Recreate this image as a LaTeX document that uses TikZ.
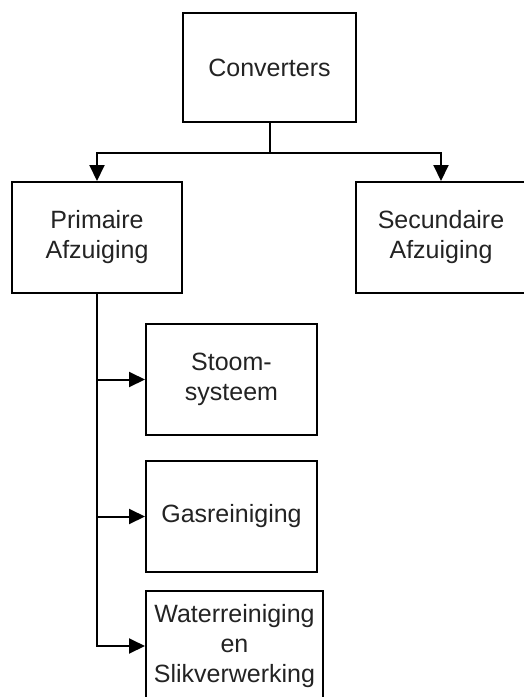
\documentclass[tikz,border=0pt]{standalone}
\usepackage{fontspec}
\setmainfont{Liberation Sans}
\usetikzlibrary{arrows.meta}
\definecolor{inkgray}{RGB}{35,35,35}
\tikzset{
  box/.style={draw=black, line width=2pt, fill=white, align=center,
    text=inkgray, font=\fontsize{25}{30}\selectfont, inner sep=0pt},
  link/.style={draw=black, line width=2pt,
    -{Triangle[length=16pt,width=15pt]}},
}
\begin{document}
\begin{tikzpicture}[x=1pt,y=-1pt]
  \clip (0,0) rectangle (524,697);
  \useasboundingbox (0,0) rectangle (524,697);

  \node[box, minimum width=173pt, minimum height=109pt] (conv) at (269.5,67.5) {Converters};
  \node[box, minimum width=170pt, minimum height=111pt] (prim) at (97,237.5) {Primaire\\Afzuiging};
  \node[box, minimum width=170pt, minimum height=111pt] (sec) at (441,237.5) {Secundaire\\Afzuiging};
  \node[box, minimum width=171pt, minimum height=111pt] (stoom) at (231.5,379.5) {Stoom-\\systeem};
  \node[box, minimum width=171pt, minimum height=111pt] (gas) at (231.5,516.5) {Gasreiniging};
  \node[box, minimum width=177pt, minimum height=110pt] (water) at (234.5,646) {Waterreiniging\\en\\Slikverwerking};

  \draw[link] (conv.south) -- ++(0,30) -| (prim.north);
  \draw[link] (conv.south) -- ++(0,30) -| (sec.north);

  \draw[link] (prim.south) |- (stoom.west);
  \draw[link] (prim.south) |- (gas.west);
  \draw[link] (prim.south) |- (water.west);
\end{tikzpicture}
\end{document}
